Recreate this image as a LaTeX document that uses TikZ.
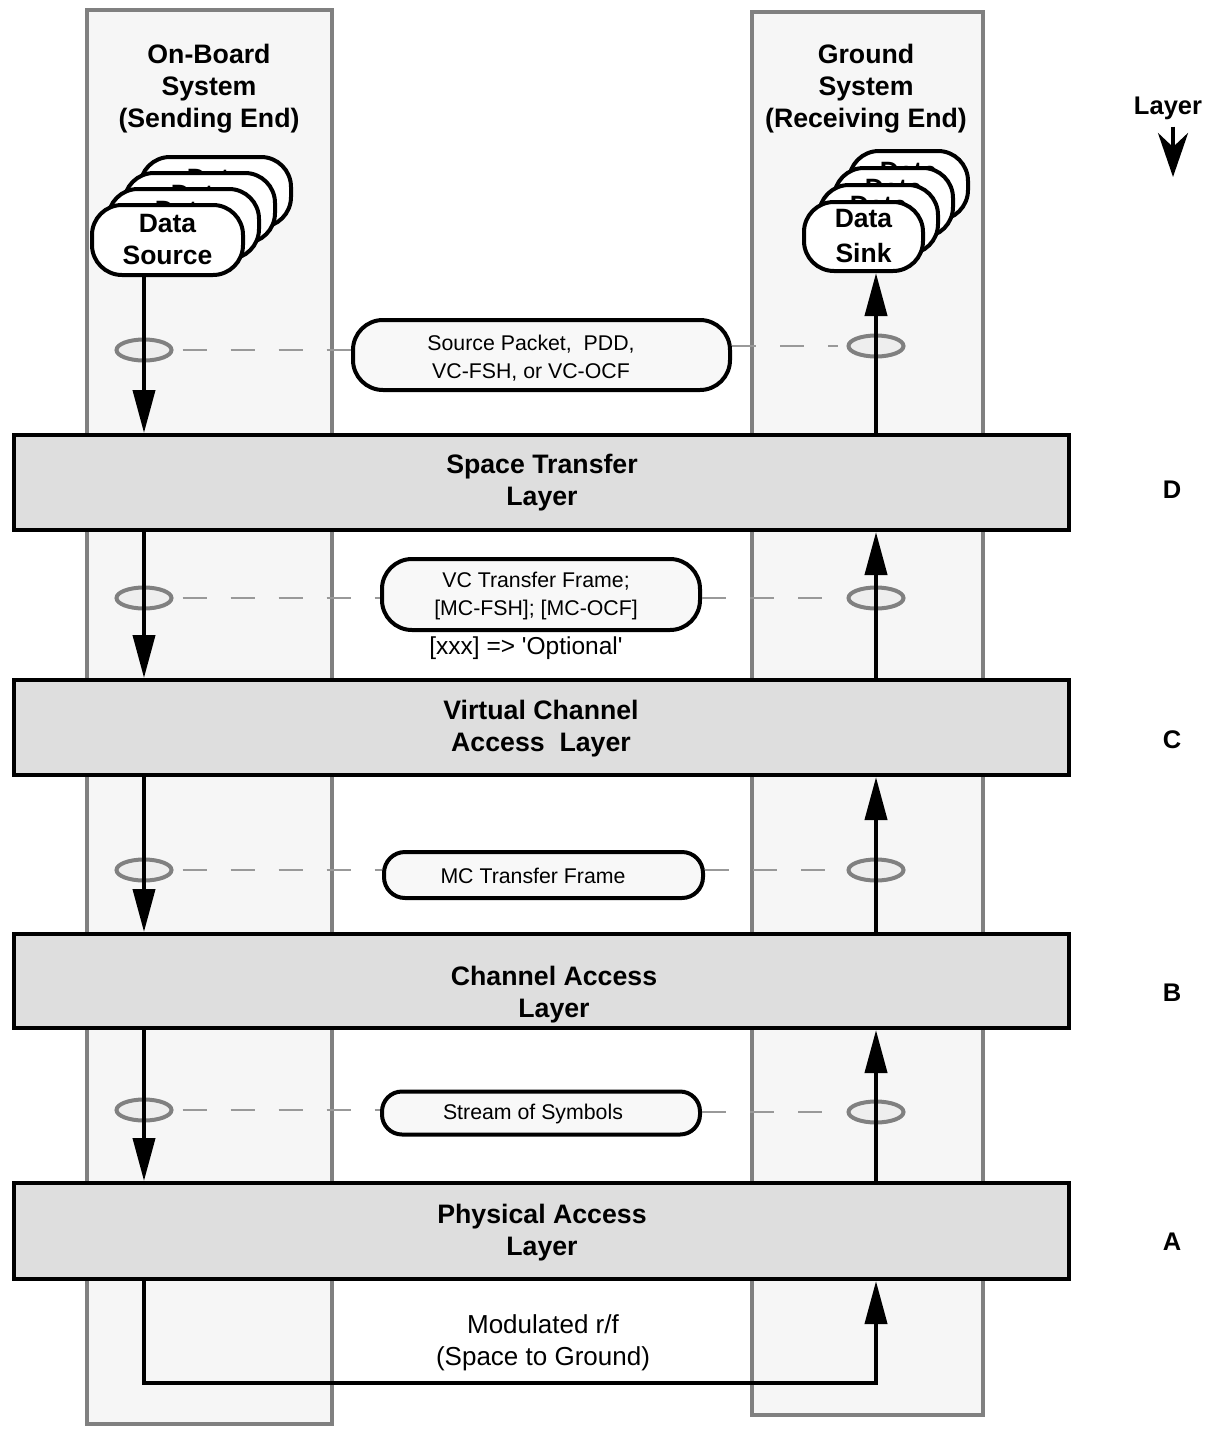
\documentclass[tikz,border=0pt]{standalone}
\usepackage{fontspec}
\setmainfont{Liberation Sans}
\newfontfamily\plainsans{Liberation Sans}
\usetikzlibrary{arrows.meta,shapes.geometric,calc}
\definecolor{colfill}{HTML}{F6F6F6}
\definecolor{colline}{HTML}{808080}
\definecolor{boxfill}{HTML}{DEDEDE}
\definecolor{pillfill}{HTML}{F8F8F8}
\definecolor{ellfill}{HTML}{EEEEEE}
\definecolor{dashcol}{HTML}{999999}
\begin{document}
\begin{tikzpicture}[x=1pt,y=-1pt,
  colbox/.style={draw=colline,fill=colfill,line width=4pt},
  layerbox/.style={draw,line width=4pt,fill=boxfill,rectangle,inner sep=0pt,minimum width=1055pt},
  boldtxt/.style={font=\bfseries\fontsize{26.7}{32}\selectfont,align=center,inner sep=0pt},
  lettertxt/.style={font=\bfseries\fontsize{25.5}{32}\selectfont,align=center,inner sep=0pt},
  plaintxt/.style={font=\fontsize{25}{32}\selectfont,align=center,inner sep=0pt},
  pilltxt/.style={font=\fontsize{21.3}{28}\selectfont,align=center,inner sep=0pt},
  card/.style={draw,line width=4pt,fill=white,rounded corners=30pt,inner sep=0pt,
    font=\bfseries\fontsize{26.5}{32}\selectfont,align=center},
  pill/.style={draw,line width=4pt,fill=pillfill,inner sep=0pt},
  ell/.style={ellipse,draw=colline,fill=ellfill,line width=4pt,minimum width=55pt,minimum height=21pt,inner sep=0pt},
  flow/.style={line width=4pt,-{Triangle[length=43pt,width=22pt]}},
  dashln/.style={draw=dashcol,line width=2.5pt,dash pattern=on 24pt off 24pt,shorten <=9pt},
  layerarrow/.style={line width=4pt,-{Stealth[length=44pt,width=30pt,inset=14pt]}}
]
\useasboundingbox (0,0) rectangle (1211,1429);
% system columns
\draw[colbox] (87,10) rectangle (332,1424);
\draw[colbox] (752,12) rectangle (983,1415);
% headers
\node[boldtxt] (hl) at (209,89) {On-Board\\System\\(Sending End)};
\node[boldtxt] (hr) at (866,89) {Ground\\System\\(Receiving End)};
\node[lettertxt] (lay) at (1168,108) {Layer};
\coordinate (latip) at (1173,177);
\draw[layerarrow] ([yshift=-7pt]latip |- lay.south) -- (latip);
% layer boxes
\node[layerbox,minimum height=95pt] (st) at (541.5,482.5) {};
\node[layerbox,minimum height=95pt] (vc) at (541.5,727.5) {};
\node[layerbox,minimum height=94pt] (ca) at (541.5,981) {};
\node[layerbox,minimum height=96pt] (pa) at (541.5,1231) {};
\node[boldtxt] (stl) at (542,483) {Space Transfer\\Layer};
\node[boldtxt] (vcl) at (541,729) {Virtual Channel\\Access\ \ Layer};
\node[boldtxt] (cal) at (554,995) {Channel Access\\Layer};
\node[boldtxt] (pal) at (542,1233) {Physical Access\\Layer};
\node[lettertxt] (ld) at (1172,490) {D};
\node[lettertxt] (lc) at (1172,740) {C};
\node[lettertxt] (lb) at (1172,993) {B};
\node[lettertxt] (la) at (1172,1242) {A};
% data source stack
\node[card,minimum width=151pt,minimum height=70pt] (src3) at (215.5,192) {\raisebox{-5pt}{Data}\\\phantom{Source}};
\node[card,minimum width=151pt,minimum height=70pt] (src2) at (199.5,208) {\raisebox{-5pt}{Data}\\\phantom{Source}};
\node[card,minimum width=151pt,minimum height=70pt] (src1) at (183.5,224) {\raisebox{-5pt}{Data}\\\phantom{Source}};
\node[card,minimum width=151pt,minimum height=70pt] (src) at (167.5,240) {Data\\Source};
% data sink stack
\node[card,minimum width=119pt,minimum height=69pt,font=\bfseries\fontsize{26.5}{35}\selectfont] (snk3) at (908.5,185.5) {\raisebox{-7pt}{Data}\\\phantom{Sink}};
\node[card,minimum width=119pt,minimum height=69pt,font=\bfseries\fontsize{26.5}{35}\selectfont] (snk2) at (893.5,202.5) {\raisebox{-7pt}{Data}\\\phantom{Sink}};
\node[card,minimum width=119pt,minimum height=69pt,font=\bfseries\fontsize{26.5}{35}\selectfont] (snk1) at (878.5,219.5) {\raisebox{-7pt}{Data}\\\phantom{Sink}};
\node[card,minimum width=119pt,minimum height=69pt,font=\bfseries\fontsize{26.5}{35}\selectfont] (snk) at (863.5,236.5) {Data\\Sink};
% ellipses
\node[ell] (el1) at (144,350) {};
\node[ell] (er1) at (876,346) {};
\node[ell] (el2) at (144,598) {};
\node[ell] (er2) at (876,598) {};
\node[ell] (el3) at (144,870) {};
\node[ell] (er3) at (876,870) {};
\node[ell] (el4) at (144,1110) {};
\node[ell] (er4) at (876,1112) {};
% pills
\node[pill,rounded corners=30pt,minimum width=377pt,minimum height=70pt] (p1) at (541.5,355) {};
\node[pill,rounded corners=30pt,minimum width=318pt,minimum height=71pt] (p2) at (541,594.5) {};
\node[pill,rounded corners=21pt,minimum width=319pt,minimum height=46pt] (p3) at (543.5,875) {};
\node[pill,rounded corners=20pt,minimum width=318pt,minimum height=43pt] (p4) at (541,1113) {};
\node[pilltxt] (p1t) at (531,358) {Source Packet,\ \ PDD,\\VC-FSH, or VC-OCF};
\node[pilltxt] (p2t) at (536,596) {VC Transfer Frame;\\{}[MC-FSH]; [MC-OCF]};
\node[pilltxt] (p3t) at (533,876) {MC Transfer Frame};
\node[pilltxt] (p4t) at (533,1114) {Stream of Symbols};
\node[plaintxt,font=\plainsans\fontsize{24.5}{30}\selectfont] (opt) at (526,648) {[xxx] =\textgreater{} 'Optional'};
\node[plaintxt,font=\fontsize{26}{32}\selectfont] (mod) at (543,1343) {Modulated r/f\\(Space to Ground)};
% dashed links
\draw[dashln] (el1.east) -- (el1.east -| p1.west);
\draw[dashln,shorten <=0pt,shorten >=9pt] (p1.east |- er1.west) -- (er1.west);
\draw[dashln] (el2.east) -- (el2.east -| p2.west);
\draw[dashln,shorten <=0pt,shorten >=9pt] (p2.east |- er2.west) -- (er2.west);
\draw[dashln] (el3.east) -- (el3.east -| p3.west);
\draw[dashln,shorten <=0pt,shorten >=9pt] (p3.east |- er3.west) -- (er3.west);
\draw[dashln] (el4.east) -- (el4.east -| p4.west);
\draw[dashln,shorten <=0pt,shorten >=9pt] (p4.east |- er4.west) -- (er4.west);
% flow arrows
\coordinate (xl) at (144,0);
\coordinate (xr) at (876,0);
\draw[flow] (src.south -| xl) -- (st.north -| xl);
\draw[flow] (st.south -| xl) -- (vc.north -| xl);
\draw[flow] (vc.south -| xl) -- (ca.north -| xl);
\draw[flow] (ca.south -| xl) -- (pa.north -| xl);
\draw[flow] (st.north -| xr) -- (snk.south -| xr);
\draw[flow] (vc.north -| xr) -- (st.south -| xr);
\draw[flow] (ca.north -| xr) -- (vc.south -| xr);
\draw[flow] (pa.north -| xr) -- (ca.south -| xr);
\coordinate (rbl) at (144,1383);
\coordinate (rbr) at (876,1383);
\draw[flow] (pa.south -| xl) -- (rbl) -- (rbr) -- (pa.south -| xr);
\end{tikzpicture}
\end{document}
